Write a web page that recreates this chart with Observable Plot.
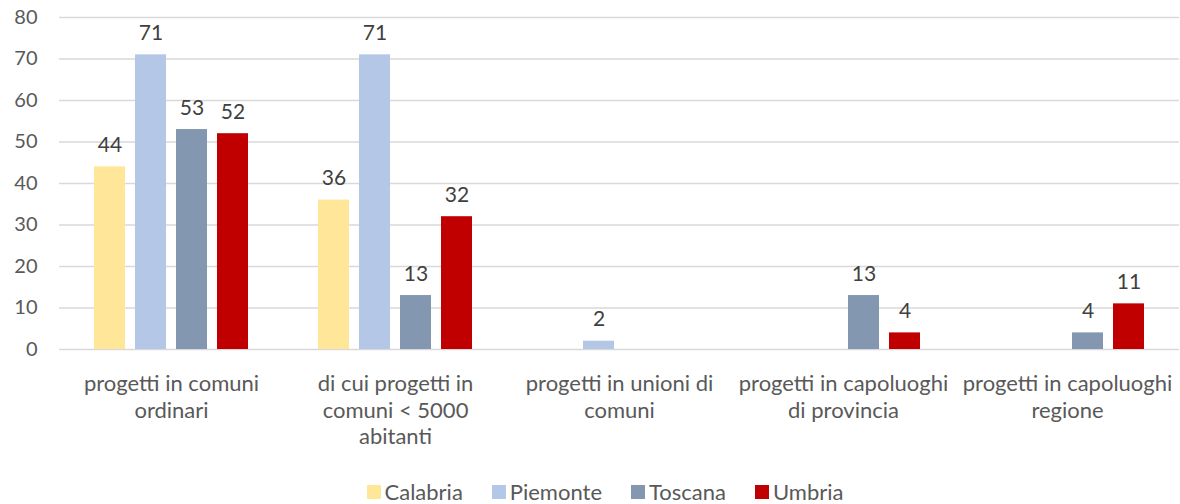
<!DOCTYPE html>
<html>
<head>
<meta charset="utf-8">
<script src="https://cdn.jsdelivr.net/npm/d3@7"></script>
<script src="https://cdn.jsdelivr.net/npm/@observablehq/plot@0.6"></script>
<style>
  html, body { margin: 0; padding: 0; background: #fff; }
  #chart { width: 1180px; }
  .legend { display: flex; justify-content: center; gap: 29px; font-family: Lato, "Open Sans", sans-serif; font-size: 22px; color: #595959; margin-top: 18px; padding-left: 30px; }
  .legend span.item { display: inline-flex; align-items: center; }
  .legend span.sw { width: 14px; height: 14px; display: inline-block; margin-right: 4px; }
</style>
</head>
<body>
<div id="chart"></div>
<script>
const categories = [
  "progetti in comuni ordinari",
  "di cui progetti in comuni < 5000 abitanti",
  "progetti in unioni di comuni",
  "progetti in capoluoghi di provincia",
  "progetti in capoluoghi regione"
];
const categoryLabels = [
  "progetti in comuni\nordinari",
  "di cui progetti in\ncomuni < 5000\nabitanti",
  "progetti in unioni di\ncomuni",
  "progetti in capoluoghi\ndi provincia",
  "progetti in capoluoghi\nregione"
];
const regions = ["Calabria", "Piemonte", "Toscana", "Umbria"];
const calabria = [44, 36, null, null, null];
const piemonte = [71, 71, 2, null, null];
const toscana  = [53, 13, null, 13, 4];
const umbria   = [52, 32, null, 4, 11];
const regionColors = ["#FFE699", "#B4C7E7", "#8497B0", "#C00000"];
const yTicks = [0, 10, 20, 30, 40, 50, 60, 70, 80];

const series = [calabria, piemonte, toscana, umbria];
const data = [];
categories.forEach((c, i) => {
  regions.forEach((r, j) => {
    const v = series[j][i];
    if (v != null) data.push({category: c, region: r, value: v});
  });
});

const chart = Plot.plot({
  width: 1180,
  height: 460,
  marginLeft: 57,
  marginRight: 0,
  marginTop: 17,
  marginBottom: 111,
  style: {fontFamily: "Lato, 'Open Sans', sans-serif", fontSize: "18px", color: "#595959", background: "#fff"},
  fx: {domain: categories, padding: 0, label: null, axis: null},
  x: {domain: regions, paddingInner: 10 / 42, paddingOuter: 0.79, axis: null},
  y: {domain: [0, 80], label: null},
  color: {domain: regions, range: regionColors},
  marks: [
    Plot.gridY(yTicks, {stroke: "#d9d9d9", strokeOpacity: 1, strokeWidth: 1.3}),
    Plot.axisY(yTicks, {tickSize: 0, tickPadding: 22, fontSize: 20, fill: "#595959", label: null}),
    Plot.axisFx({
      anchor: "bottom",
      tickSize: 0, tickPadding: 23, fontSize: 22, fill: "#595959", lineHeight: 1.2, label: null,
      tickFormat: d => categoryLabels[categories.indexOf(d)]
    }),
    Plot.barY(data, {fx: "category", x: "region", y: "value", fill: "region"}),
    Plot.text(data, {fx: "category", x: "region", y: "value", text: d => String(d.value), dy: -15, lineAnchor: "bottom", fontSize: 21, fill: "#404040"})
  ]
});
document.getElementById("chart").appendChild(chart);

const legend = document.createElement("div");
legend.className = "legend";
regions.forEach((r, i) => {
  const item = document.createElement("span");
  item.className = "item";
  const sw = document.createElement("span");
  sw.className = "sw";
  sw.style.background = regionColors[i];
  item.appendChild(sw);
  item.appendChild(document.createTextNode(r));
  legend.appendChild(item);
});
document.getElementById("chart").appendChild(legend);
</script>
</body>
</html>
